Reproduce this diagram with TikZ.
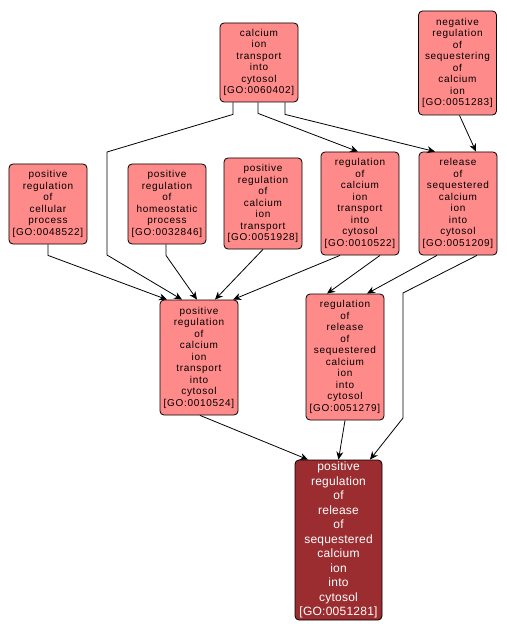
\documentclass[tikz,border=0pt]{standalone}
\usepackage{fontspec}
\setmainfont{Liberation Sans}[LetterSpace=7]
\newfontfamily\bigfont{Liberation Sans}[LetterSpace=2]
\usetikzlibrary{arrows.meta}

\definecolor{termpink}{RGB}{255,138,138}
\definecolor{termred}{RGB}{155,45,48}

\tikzset{
  term/.style={draw=black, fill=termpink, rounded corners=4bp, align=center,
    text width=76bp, inner xsep=1bp, inner ysep=0pt, line width=0.8bp,
    font=\fontsize{10bp}{11.5bp}\selectfont},
  mainterm/.style={term, fill=termred, text=white, text width=85bp,
    font=\bigfont\fontsize{12bp}{14.5bp}\selectfont},
  edge/.style={-{Stealth[length=8bp,width=7bp]}, line width=0.8bp}
}

\begin{document}
\begin{tikzpicture}[x=1bp,y=-1bp]

\useasboundingbox[fill=white] (0,0) rectangle (507,637);

% Top row
\node[term, minimum height=79bp] (tr0060402) at (259,62.5)
  {calcium\\ion\\transport\\into\\cytosol\\{[GO:0060402]}};
\node[term, minimum height=104bp] (nr0051283) at (457.5,63)
  {negative\\regulation\\of\\sequestering\\of\\calcium\\ion\\{[GO:0051283]}};

% Second row
\node[term, minimum height=80bp] (pr0048522) at (48,204)
  {positive\\regulation\\of\\cellular\\process\\{[GO:0048522]}};
\node[term, minimum height=80bp] (pr0032846) at (167,204)
  {positive\\regulation\\of\\homeostatic\\process\\{[GO:0032846]}};
\node[term, minimum height=91bp] (pr0051928) at (263,203.5)
  {positive\\regulation\\of\\calcium\\ion\\transport\\{[GO:0051928]}};
\node[term, minimum height=103bp] (rg0010522) at (360,203.5)
  {regulation\\of\\calcium\\ion\\transport\\into\\cytosol\\{[GO:0010522]}};
\node[term, minimum height=103bp] (rl0051209) at (458,203.5)
  {release\\of\\sequestered\\calcium\\ion\\into\\cytosol\\{[GO:0051209]}};

% Third row
\node[term, minimum height=115bp] (pr0010524) at (199,357.5)
  {positive\\regulation\\of\\calcium\\ion\\transport\\into\\cytosol\\{[GO:0010524]}};
\node[term, minimum height=126bp] (rg0051279) at (345,357)
  {regulation\\of\\release\\of\\sequestered\\calcium\\ion\\into\\cytosol\\{[GO:0051279]}};

% Bottom
\node[mainterm, minimum height=160bp] (pr0051281) at (338.5,540)
  {positive\\regulation\\of\\release\\of\\sequestered\\calcium\\ion\\into\\cytosol\\{[GO:0051281]}};

% Edges from the top row
\draw[edge] ([xshift=-1bp]tr0060402.south) -- ++(0,11) -- ([xshift=-2bp]rg0010522.north);
\draw[edge] ([xshift=26bp]tr0060402.south) -- ++(0,12) -- ([xshift=-23bp]rl0051209.north);
\draw[edge] ([xshift=-26bp]tr0060402.south) -- ++(0,12) -- (107,152) -- (107,255)
  -- ([xshift=-17bp]pr0010524.north);
\draw[edge] ([xshift=2bp]nr0051283.south) -- ([xshift=18bp]rl0051209.north);

% Edges into GO:0010524
\draw[edge] (pr0048522.south) -- ++(0,11) -- ([xshift=-32bp]pr0010524.north);
\draw[edge] ([xshift=-1bp]pr0032846.south) -- ++(0,11) -- ([xshift=-2bp]pr0010524.north);
\draw[edge] (pr0051928.south) -- ([xshift=16bp]pr0010524.north);
\draw[edge] ([xshift=-20bp]rg0010522.south) -- ([xshift=34bp]pr0010524.north);

% Edges into GO:0051279
\draw[edge] ([xshift=20bp]rg0010522.south) -- ([xshift=-18bp]rg0051279.north);
\draw[edge] ([xshift=-21bp]rl0051209.south) -- ([xshift=22bp]rg0051279.north);

% Edges into GO:0051281
\draw[edge] ([xshift=19bp]rl0051209.south) -- (403,293) -- (403,418)
  -- ([xshift=31.5bp]pr0051281.north);
\draw[edge] ([xshift=1bp]pr0010524.south) -- ([xshift=-30.5bp]pr0051281.north);
\draw[edge] (rg0051279.south) -- (pr0051281.north);

\end{tikzpicture}
\end{document}
